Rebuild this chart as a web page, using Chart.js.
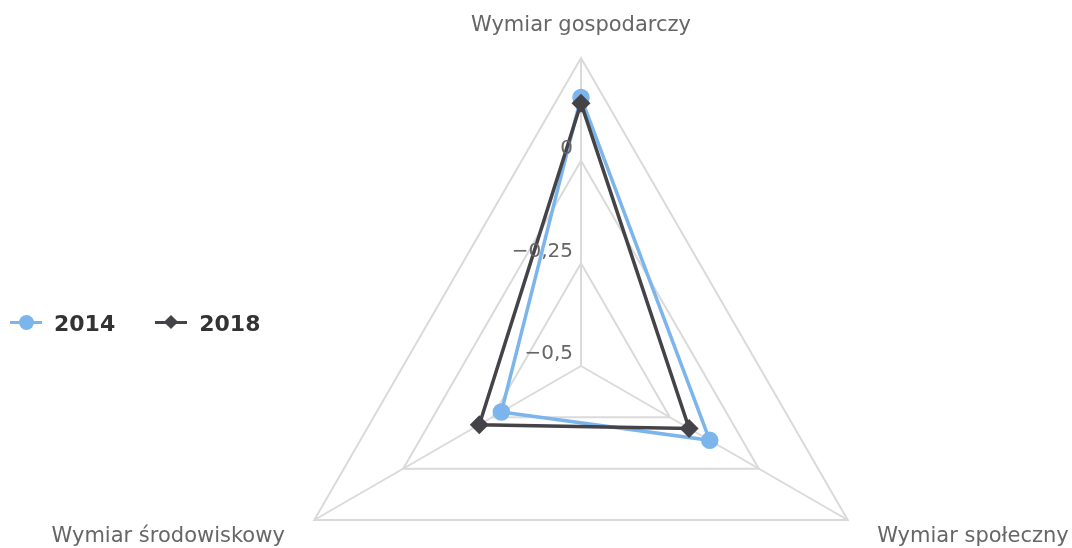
<!DOCTYPE html>
<html lang="pl">
<head>
<meta charset="utf-8">
<title>Wymiary</title>
<script src="https://cdn.jsdelivr.net/npm/chart.js@4.4.1/dist/chart.umd.min.js"></script>
<style>
    html, body { margin: 0; padding: 0; background: #fff; }
    #wrap { position: relative; width: 1072px; height: 548px; overflow: hidden; }
    #legenda {
        position: absolute; left: 10px; top: 309px;
        font: bold 22px "DejaVu Sans", sans-serif; color: #333;
        display: flex; align-items: center;
    }
    .item { display: flex; align-items: center; margin-right: 40px; }
    .sym { position: relative; width: 32px; height: 28px; margin-right: 12px; }
    .sym .ln { position: absolute; left: 0; right: 0; top: 12px; height: 3px; }
    .sym .kolo { position: absolute; left: 9px; top: 6px; width: 15px; height: 15px; border-radius: 50%; }
    .sym .romb { position: absolute; left: 11px; top: 8px; width: 10px; height: 10px; transform: rotate(45deg); }
</style>
</head>
<body>
<div id="wrap">
    <canvas id="grafico" width="1072" height="548"></canvas>
    <div id="legenda"></div>
</div>
<script>
// dane
const wymiary = ["Wymiar gospodarczy", "Wymiar społeczny", "Wymiar środowiskowy"];
const lata = ["2014", "2018"];
const wartosci2014 = [0.154, -0.138, -0.276];
const wartosci2018 = [0.140, -0.196, -0.214];
const podzialka = [-0.5, -0.25, 0];
const kolory = ["#7cb5ec", "#434348"];

const FONT = '"DejaVu Sans", sans-serif';

function formatuj(v) {
    return (v < 0 ? "\u2212" : "") + String(Math.abs(v)).replace(".", ",");
}

// etykiety osi i podziałki rysowane recznie (jak w Highcharts)
const etykiety = {
    id: "etykiety",
    afterDraw(chart) {
        const scale = chart.scales.r;
        const ctx = chart.ctx;
        ctx.save();
        ctx.fillStyle = "#666";
        ctx.font = "20px " + FONT;

        // podziałka
        ctx.textAlign = "right";
        ctx.textBaseline = "middle";
        podzialka.forEach(v => {
            const d = scale.getDistanceFromCenterForValue(v);
            ctx.fillText(formatuj(v), scale.xCenter - 8, scale.yCenter - d - 12);
        });

        // nazwy wymiarow
        ctx.font = "21px " + FONT;
        wymiary.forEach((nazwa, i) => {
            const p = scale.getPointPosition(i, scale.drawingArea + 34);
            if (i === 0) ctx.textAlign = "center";
            else if (p.x > scale.xCenter) ctx.textAlign = "left";
            else ctx.textAlign = "right";
            ctx.fillText(nazwa, p.x, i === 0 ? p.y + 2 : p.y);
        });
        ctx.restore();
    }
};

new Chart(document.getElementById("grafico").getContext("2d"), {
    type: "radar",
    data: {
        labels: wymiary,
        datasets: [
            {
                label: lata[0],
                data: wartosci2014,
                borderColor: kolory[0],
                backgroundColor: "transparent",
                pointBackgroundColor: kolory[0],
                pointBorderColor: kolory[0],
                pointStyle: "circle",
                pointRadius: 7,
                borderWidth: 3.5,
                order: 1
            },
            {
                label: lata[1],
                data: wartosci2018,
                borderColor: kolory[1],
                backgroundColor: "transparent",
                pointBackgroundColor: kolory[1],
                pointBorderColor: kolory[1],
                pointStyle: "rectRot",
                pointRadius: 7,
                borderWidth: 3.5,
                order: 0
            }
        ]
    },
    options: {
        responsive: false,
        animation: false,
        plugins: { legend: { display: false }, tooltip: { enabled: false } },
        scales: {
            r: {
                min: -0.5,
                max: 0.25,
                ticks: { stepSize: 0.25, display: false },
                pointLabels: { display: false },
                grid: { color: "#dadada", lineWidth: 2 },
                angleLines: { color: "#dadada", lineWidth: 2 },
                afterFit(scale) {
                    scale.xCenter = 581;
                    scale.yCenter = 366;
                    scale.drawingArea = 308;
                }
            }
        }
    },
    plugins: [etykiety]
});

// legenda w HTML
const legenda = document.getElementById("legenda");
lata.forEach((rok, i) => {
    const item = document.createElement("div");
    item.className = "item";
    const znak = i === 0 ? "kolo" : "romb";
    item.innerHTML = `<span class="sym"><span class="ln" style="background:${kolory[i]}"></span>` +
        `<span class="${znak}" style="background:${kolory[i]}"></span></span><span>${rok}</span>`;
    legenda.appendChild(item);
});
</script>
</body>
</html>
